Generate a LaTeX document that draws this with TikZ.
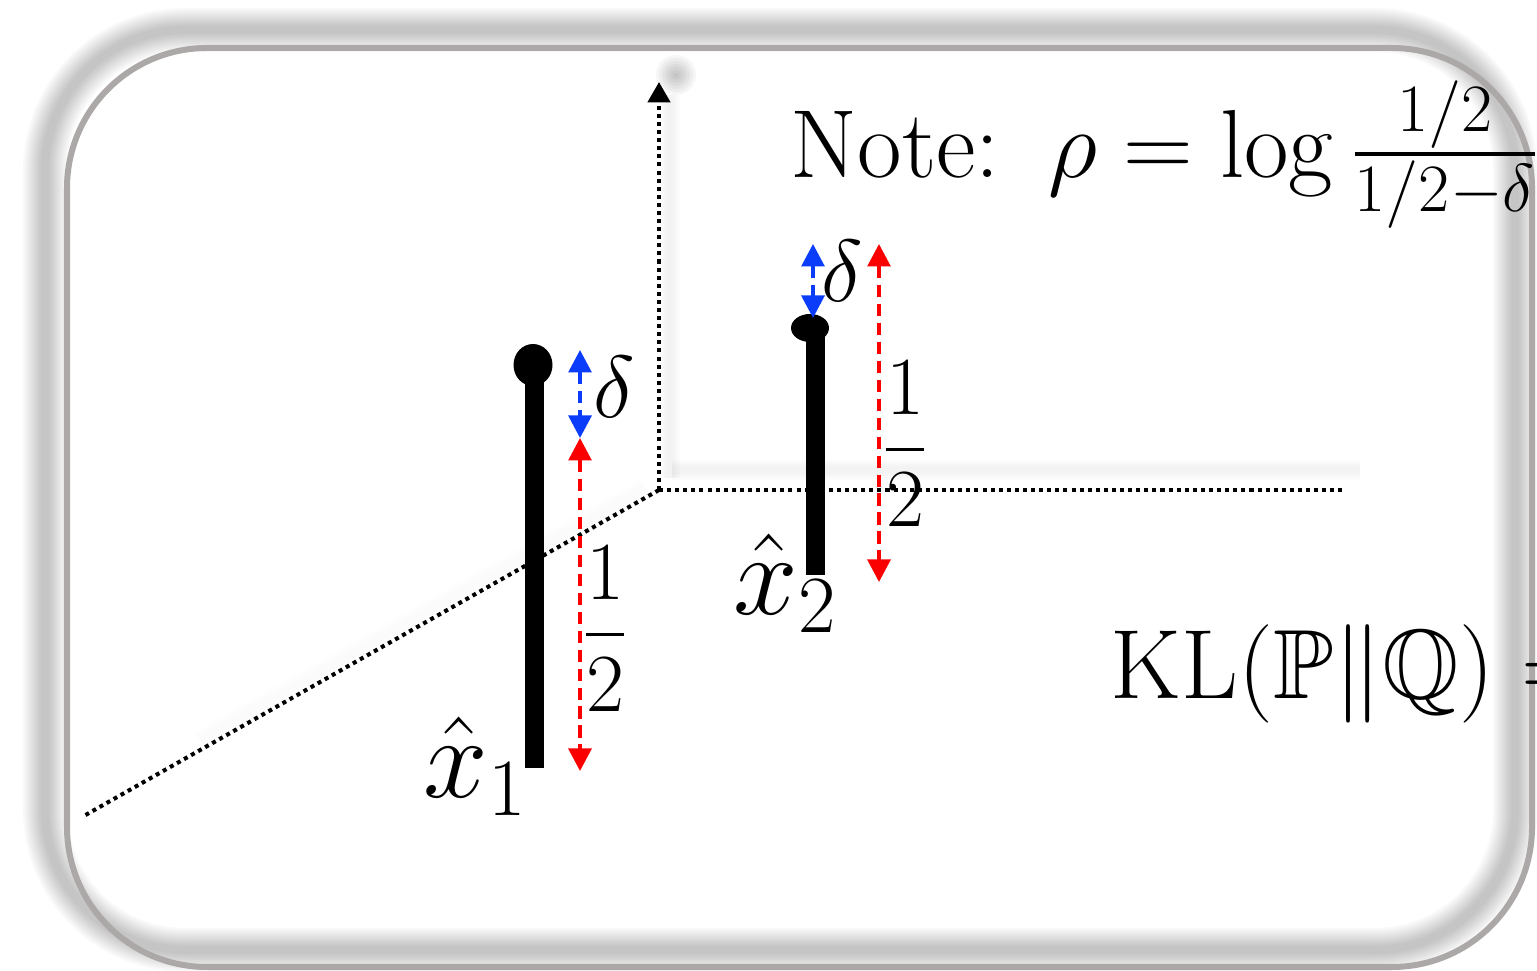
\RequirePackage{fix-cm}
\documentclass[tikz,border=0pt]{standalone}
\usepackage{amsmath,amssymb}
\usetikzlibrary{arrows.meta}
\definecolor{framegray}{RGB}{172,168,168}
\definecolor{arrblue}{RGB}{10,60,250}
\definecolor{arrred}{RGB}{250,0,0}

\begin{document}
\begin{tikzpicture}[x=0.01cm, y=-0.01cm,
    axis/.style={line width=1.15pt, dash pattern=on 1.15pt off 1.15pt},
    pole/.style={line width=0.19cm},
    gap/.style={line width=1pt, dash pattern=on 3.6pt off 1.8pt,
        {Triangle[width=6.5pt,length=6.4pt]}-{Triangle[width=6.5pt,length=6.4pt]}},
    lbl/.style={inner sep=0pt, font=\fontsize{23.5}{28}\selectfont},
    hatlbl/.style={inner sep=0pt, anchor=base west, font=\fontsize{33}{40}\selectfont},
    haze/.style={line width=#1cm, black, opacity=0.025}]
    \useasboundingbox (0,0) rectangle (1537,971);
    \clip (0,0) rectangle (1537,971);
    \fill[white] (0,0) rectangle (1537,971);

    % Schatten und Rahmen
    \foreach \w in {0.44,0.40,...,0.04}
        \draw[haze=\w, rounded corners=1.4cm] (45,30) rectangle (1515,950);
    \draw[framegray, line width=0.06cm, rounded corners=1.4cm] (67,48) rectangle (1532,967);

    % Achsen
    \coordinate (O) at (659,490);
    \coordinate (ztop) at (659,82);
    \coordinate (xend) at (1342,490);
    \coordinate (yend) at (82,817);
    \foreach \w in {0.20,0.16,0.12,0.08} {
        \draw[haze=\w, opacity=0.012] (670,95) -- (670,478);
        \draw[haze=\w, opacity=0.012] (672,470) -- (1360,470);
        \draw[haze=\w, opacity=0.005] (645,488) -- (200,740);
    }
    \foreach \r in {20,17,...,2}
        \fill[black, opacity=0.035] (676,75) circle (\r);
    \draw[axis, -{Triangle[width=6.3pt,length=5.8pt]}] (O) -- (ztop);
    \draw[axis] (O) -- (xend);
    \draw[axis] (O) -- (yend);

    % Stab 1
    \coordinate (p1top) at (534,372);
    \coordinate (p1bot) at (534,768);
    \draw[pole] (p1top) -- (p1bot);
    \fill (533,365) ellipse (19.5 and 21);

    % Stab 2
    \coordinate (p2top) at (815,330);
    \coordinate (p2bot) at (815,575);
    \draw[pole] (p2top) -- (p2bot);
    \fill (810,328) ellipse (19 and 14);

    % Abstaende delta und 1/2
    \coordinate (a1top) at (580,350);
    \coordinate (a1mid) at (580,438);
    \coordinate (a1bot) at (580,771);
    \coordinate (a2top) at (813,244);
    \coordinate (a2mid) at (813,318);
    \coordinate (b2top) at (879,244);
    \coordinate (b2bot) at (879,582);
    \draw[gap, arrblue] (a1top) -- (a1mid);
    \draw[gap, arrred] (a1mid) -- (a1bot);
    \draw[gap, arrblue] (a2top) -- (a2mid);
    \draw[gap, arrred] (b2top) -- (b2bot);

    % Beschriftungen
    \node[lbl, anchor=base west, font=\fontsize{25}{30}\selectfont] (d1) at (593,418) {$\delta$};
    \node[lbl, anchor=base west, font=\fontsize{25}{30}\selectfont] (d2) at (821,302) {$\delta$};
    \node[lbl] (h1) at (605,629) {$\dfrac{1}{2}$};
    \node[lbl] (h2) at (905,444) {$\dfrac{1}{2}$};
    \node[hatlbl] (x1) at (423,798) {$\hat{x}_1$};
    \node[hatlbl] (x2) at (733,615) {$\hat{x}_2$};
    \node[inner sep=0pt, anchor=base west, font=\fontsize{27.5}{33}\selectfont] (note) at (790,178)
        {Note:\enspace$\rho=\log\frac{1/2}{1/2-\delta}$};
    \node[inner sep=0pt, anchor=base west, font=\fontsize{28}{34}\selectfont] (kl) at (1110,699)
        {$\mathrm{KL}(\mathbb{P}\|\mathbb{Q}) =$};
\end{tikzpicture}
\end{document}
